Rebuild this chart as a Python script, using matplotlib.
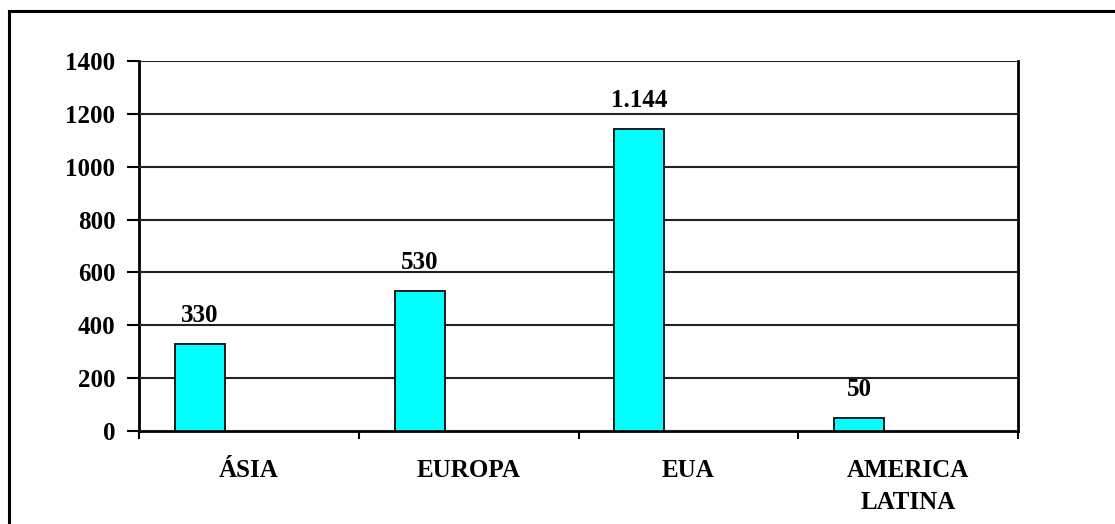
import matplotlib.pyplot as plt
import numpy as np
from matplotlib.lines import Line2D

###Data
regioes = ['ÁSIA', 'EUROPA', 'EUA', 'AMERICA\nLATINA']
valores = [330, 530, 1144, 50]
rotulos = ['330', '530', '1.144', '50']
y_ticks = [0, 200, 400, 600, 800, 1000, 1200, 1400]

plt.rcParams['font.family'] = ['Liberation Serif', 'DejaVu Serif']
plt.rcParams['font.weight'] = 'bold'

fig = plt.figure(figsize=(11.15, 5.24), dpi=100)
ax = fig.add_axes([139/1115, 1 - 431/524, (1018 - 139)/1115, (431 - 61)/524])

###Outer frame (open on right and bottom, as in the cropped picture)
fig.add_artist(Line2D([9/1115, 9/1115], [0, 1 - 11/524], color='black', lw=2.2, transform=fig.transFigure))
fig.add_artist(Line2D([9/1115, 1], [1 - 11/524, 1 - 11/524], color='black', lw=2.2, transform=fig.transFigure))

x = np.arange(len(regioes))
offset = -0.223
largura = 0.227
bars = ax.bar(x + offset, valores, width=largura, color='#00FFFF', edgecolor='#1a1a1a', linewidth=1.4, zorder=3)

for xi, v, r in zip(x, valores, rotulos):
    ax.annotate(r, (xi + offset, v), xytext=(0, 12), textcoords='offset points',
                ha='center', va='bottom', fontsize=18, fontweight='bold', zorder=1)

ax.set_xlim(-0.5, len(regioes) - 0.5)
ax.set_ylim(0, 1400)
ax.set_yticks(y_ticks)
ax.set_yticklabels([str(t) for t in y_ticks])
ax.yaxis.grid(True, color='#222222', linewidth=1.5, zorder=2)
ax.set_axisbelow(False)

ax.set_xticks(np.arange(len(regioes) + 1) - 0.5)
ax.set_xticklabels([])
ax.set_xticks(x, minor=True)
ax.set_xticklabels(regioes, minor=True, fontsize=18, fontweight='bold', linespacing=1.5)
ax.tick_params(axis='x', which='minor', length=0, pad=20)
ax.tick_params(axis='x', which='major', length=6, width=1.5, direction='out')
ax.tick_params(axis='y', length=9, width=1.5, pad=8, labelsize=18)

for s in ['left', 'bottom', 'right', 'top']:
    ax.spines[s].set_linewidth(2)
ax.spines['top'].set_visible(False)

fig.savefig('out.png', dpi=100)
